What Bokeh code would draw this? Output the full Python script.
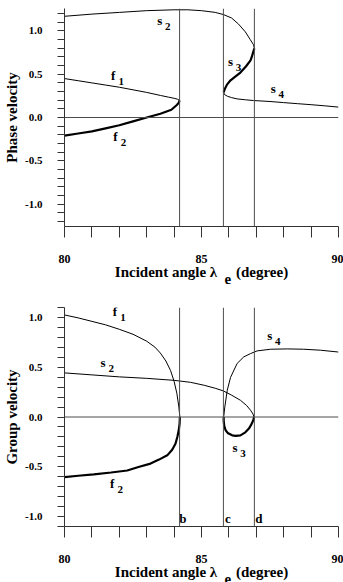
from bokeh.plotting import figure
from bokeh.layouts import column
from bokeh.models import FixedTicker, Span, ColumnDataSource
from bokeh.core.properties import value
from bokeh.embed import file_html
from bokeh.resources import INLINE

FONT = "Liberation Serif"

# ---------------- data ----------------
x_major = [80, 85, 90]
x_minor = [81, 82, 83, 84, 86, 87, 88, 89]
y_major = [-1.0, -0.5, 0.0, 0.5, 1.0]
y_major_labels = {-1.0: "-1.0", -0.5: "-0.5", 0.0: "0.0", 0.5: "0.5", 1.0: "1.0"}
y_minor_top = [-1.2, -1.1, -0.9, -0.8, -0.7, -0.6, -0.4, -0.3, -0.2, -0.1,
               0.1, 0.2, 0.3, 0.4, 0.6, 0.7, 0.8, 0.9, 1.1, 1.2]
y_minor_bot = [-1.1, -0.9, -0.8, -0.7, -0.6, -0.4, -0.3, -0.2, -0.1,
               0.1, 0.2, 0.3, 0.4, 0.6, 0.7, 0.8, 0.9, 1.1]

crit_x = [84.2, 85.8, 86.93]
crit_names = ["b", "c", "d"]

# Phase velocity branches
ph_f1_x = [80.0, 80.5, 81.0, 81.5, 82.0, 82.5, 83.0, 83.5, 83.8, 84.0, 84.12, 84.2]
ph_f1_y = [0.45, 0.425, 0.40, 0.375, 0.35, 0.32, 0.29, 0.255, 0.235, 0.222, 0.212, 0.198]
ph_f2_x = [84.2, 84.17, 84.1, 83.9, 83.5, 83.0, 82.5, 82.0, 81.5, 81.0, 80.5, 80.0]
ph_f2_y = [0.198, 0.17, 0.145, 0.09, 0.043, 0.0, -0.045, -0.09, -0.125, -0.16, -0.185, -0.21]
ph_s2_x = [80.0, 81.0, 82.0, 83.0, 84.0, 84.5, 85.0, 85.5, 85.8, 86.1, 86.35, 86.6, 86.78, 86.9, 86.93]
ph_s2_y = [1.17, 1.195, 1.215, 1.235, 1.245, 1.245, 1.235, 1.215, 1.19, 1.15, 1.08, 0.99, 0.9, 0.84, 0.80]
ph_s3_x = [86.93, 86.89, 86.85, 86.79, 86.62, 86.42, 86.22, 86.06, 85.93, 85.85, 85.81]
ph_s3_y = [0.80, 0.76, 0.715, 0.66, 0.59, 0.52, 0.47, 0.43, 0.38, 0.33, 0.29]
ph_s4_x = [85.81, 85.84, 85.95, 86.1, 86.3, 86.6, 86.9, 87.5, 88.0, 88.5, 89.0, 89.5, 90.0]
ph_s4_y = [0.29, 0.265, 0.245, 0.23, 0.215, 0.205, 0.196, 0.185, 0.172, 0.16, 0.148, 0.135, 0.12]

# Group velocity branches
gr_f1_x = [80.0, 80.5, 81.0, 81.5, 82.0, 82.5, 83.0, 83.3, 83.5, 83.7, 83.87, 84.0, 84.1, 84.17, 84.21]
gr_f1_y = [1.03, 1.0, 0.965, 0.93, 0.885, 0.835, 0.765, 0.705, 0.645, 0.565, 0.47, 0.36, 0.24, 0.11, 0.0]
gr_f2_x = [84.21, 84.2, 84.17, 84.12, 84.05, 83.93, 83.75, 83.45, 83.14, 82.7, 82.29, 81.7, 81.07, 80.5, 80.0]
gr_f2_y = [0.0, -0.07, -0.134, -0.2, -0.27, -0.33, -0.387, -0.43, -0.47, -0.505, -0.54, -0.56, -0.579, -0.593, -0.606]
gr_s2_x = [80.0, 81.0, 82.0, 83.0, 84.0, 84.6, 85.1, 85.5, 85.8, 86.1, 86.42, 86.65, 86.79, 86.88, 86.92]
gr_s2_y = [0.445, 0.425, 0.405, 0.39, 0.37, 0.35, 0.32, 0.29, 0.263, 0.22, 0.169, 0.115, 0.068, 0.03, 0.0]
gr_s3_x = [86.92, 86.89, 86.8, 86.73, 86.6, 86.42, 86.25, 86.12, 85.97, 85.88, 85.83, 85.81, 85.81]
gr_s3_y = [0.0, -0.033, -0.085, -0.117, -0.155, -0.185, -0.19, -0.185, -0.165, -0.134, -0.09, -0.04, 0.0]
gr_s4_x = [85.81, 85.85, 85.94, 86.06, 86.3, 86.54, 86.79, 87.03, 87.52, 88.13, 88.73, 89.34, 89.95, 90.0]
gr_s4_y = [0.0, 0.10, 0.27, 0.40, 0.54, 0.606, 0.64, 0.667, 0.684, 0.687, 0.684, 0.674, 0.657, 0.655]

# curve labels
ph_lab = ["s", "f", "f", "s", "s"]
ph_sub = ["2", "1", "2", "3", "4"]
ph_lab_x = [83.48, 81.78, 81.86, 86.06, 87.62]
ph_lab_y = [1.119, 0.484, -0.219, 0.646, 0.331]

gr_lab = ["f", "s", "f", "s", "s"]
gr_sub = ["1", "2", "2", "3", "4"]
gr_lab_x = [81.84, 81.41, 81.74, 86.22, 87.49]
gr_lab_y = [1.061, 0.549, -0.673, -0.303, 0.825]

crit_lab_x = [84.32, 85.96, 87.09]
crit_lab_y = [-1.026, -1.026, -1.026]

NB = "\u00a0"
# two-line axis title: main text, then the subscript "e" of lambda on a lowered line
x_title = "Incident angle \u03bb" + NB * 5 + "(degree)\n" + NB * 14 + "e"

AX = "#333333"
REF = "#4d4d4d"


def make_fig(frame_h, y0, y1, btop, bbot, ylabel, yminor):
    p = figure(frame_width=274, frame_height=frame_h, x_range=(80, 90), y_range=(y0, y1),
               output_backend="svg", toolbar_location=None,
               min_border_left=64, min_border_right=5,
               min_border_top=btop, min_border_bottom=bbot)
    p.outline_line_color = None
    p.grid.visible = False
    p.background_fill_color = "white"
    p.border_fill_color = "white"

    xa = p.xaxis[0]
    xa.ticker = FixedTicker(ticks=x_major, minor_ticks=x_minor)
    xa.axis_label = x_title
    ya = p.yaxis[0]
    ya.ticker = FixedTicker(ticks=y_major, minor_ticks=yminor)
    ya.major_label_overrides = y_major_labels
    ya.axis_label = ylabel
    for ax in (xa, ya):
        ax.axis_line_color = AX
        ax.major_tick_line_color = AX
        ax.minor_tick_line_color = AX
        ax.major_tick_in = 0
        ax.minor_tick_in = 0
        ax.major_label_text_font = FONT
        ax.major_label_text_font_style = "bold"
        ax.major_label_text_color = "black"
        ax.axis_label_text_font = FONT
        ax.axis_label_text_font_style = "bold"
        ax.axis_label_text_font_size = "15px"
        ax.axis_label_text_color = "black"
    xa.axis_label_text_line_height = 0.45
    xa.major_label_text_font_size = "12px"
    ya.major_label_text_font_size = "11px"
    xa.major_tick_out = 11
    xa.minor_tick_out = 11
    xa.major_label_standoff = 17
    xa.axis_label_standoff = -2
    ya.major_tick_out = 7
    ya.minor_tick_out = 7
    ya.major_label_standoff = 15
    ya.axis_label_standoff = 2

    p.add_layout(Span(location=0, dimension="width", line_color=REF, line_width=1))
    for cx in crit_x:
        p.add_layout(Span(location=cx, dimension="height", line_color=REF, line_width=1))
    return p


def add_labels(p, lab, sub, lx, ly):
    src = ColumnDataSource(dict(x=lx, y=ly, t=lab, s=sub))
    p.text(x="x", y="y", text="t", source=src, text_font=value(FONT),
           text_font_style="bold", text_font_size="13px",
           text_align="center", text_baseline="middle", text_color="black")
    p.text(x="x", y="y", text="s", source=src, text_font=value(FONT),
           text_font_style="bold", text_font_size="11px",
           text_align="center", text_baseline="middle", text_color="black",
           x_offset=8, y_offset=6)


THIN = 1.0
THICK = 2.2

p1 = make_fig(218, -1.26, 1.26, 8, 64, "Phase velocity", y_minor_top)
p1.line(ph_f1_x, ph_f1_y, line_color="black", line_width=THIN)
p1.line(ph_f2_x, ph_f2_y, line_color="black", line_width=THICK)
p1.line(ph_s2_x, ph_s2_y, line_color="black", line_width=THIN)
p1.line(ph_s3_x, ph_s3_y, line_color="black", line_width=THICK)
p1.line(ph_s4_x, ph_s4_y, line_color="black", line_width=THIN)
add_labels(p1, ph_lab, ph_sub, ph_lab_x, ph_lab_y)

p2 = make_fig(219, -1.105, 1.105, 17, 56, "Group velocity", y_minor_bot)
p2.line(gr_f1_x, gr_f1_y, line_color="black", line_width=THIN)
p2.line(gr_f2_x, gr_f2_y, line_color="black", line_width=THICK)
p2.line(gr_s2_x, gr_s2_y, line_color="black", line_width=THIN)
p2.line(gr_s3_x, gr_s3_y, line_color="black", line_width=THICK)
p2.line(gr_s4_x, gr_s4_y, line_color="black", line_width=THIN)
add_labels(p2, gr_lab, gr_sub, gr_lab_x, gr_lab_y)
p2.text(x=crit_lab_x, y=crit_lab_y, text=crit_names, text_font=value(FONT),
        text_font_style="bold", text_font_size="13px",
        text_align="center", text_baseline="middle", text_color="black")

layout = column(p1, p2, spacing=0)
open("out.html", "w").write(file_html(layout, INLINE))
